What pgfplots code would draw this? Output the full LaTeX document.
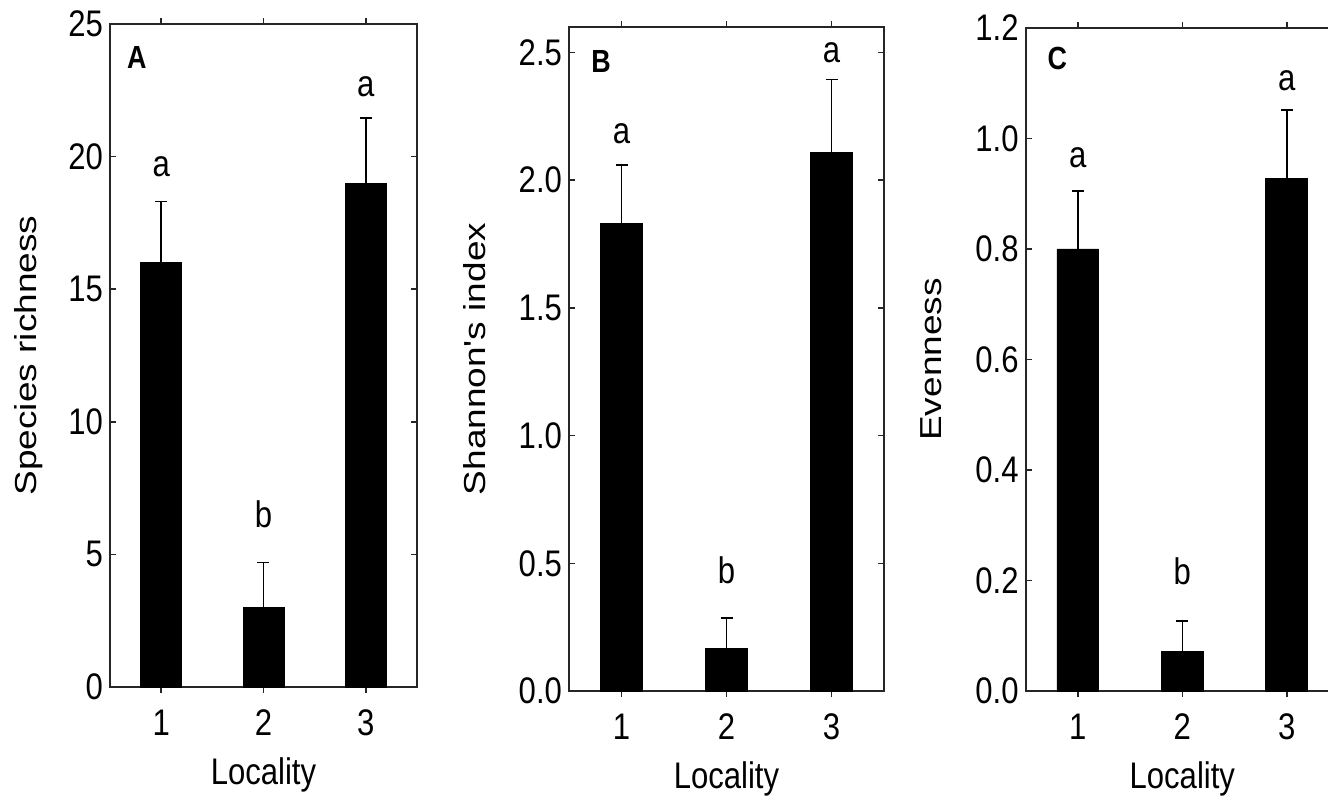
\documentclass[border=0pt]{standalone}
\usepackage{fontspec}
\setmainfont{Liberation Sans}[FakeStretch=0.84]
\newfontfamily\plainfont{Liberation Sans}
\usepackage{pgfplots}
\pgfplotsset{compat=1.18}

\newcommand{\vlabel}[1]{\scalebox{1}[0.82]{\plainfont\fontsize{18.5}{22}\selectfont #1}}

\pgfplotsset{
 panel/.style={
  scale only axis,
  anchor=south west,
  xmin=0.5, xmax=3.5, ymin=0,
  xtick={1,2,3},
  tick align=inside,
  major tick length=3pt,
  axis line style={black!85, line width=0.9pt},
  every tick/.style={black!85, line width=0.8pt},
  /pgf/number format/assume math mode=true,
  tick label style={font=\fontsize{18.5}{22}\selectfont},
  label style={font=\fontsize{18.5}{22}\selectfont},
  xticklabel style={yshift=-5pt},
  xlabel={Locality},
  xlabel style={at={(axis description cs:0.5,0)}, anchor=base, yshift=-48.5pt},
  ybar, bar width=0.4, bar shift=0pt,
  clip=false,
 },
 bars/.style={fill=black, draw=black,
   error bars/.cd, y dir=plus, y explicit,
   error mark=-,
   error bar style={line width=0.8pt, black},
   error mark options={rotate=90, line width=0.8pt, black, mark size=3pt}},
}
\tikzset{
 lab/.style={font=\fontsize{18.5}{22}\selectfont, anchor=base},
 plab/.style={font=\fontsize{16}{19}\selectfont\bfseries, anchor=base},
}

\begin{document}
\begin{tikzpicture}
% Panel A
\begin{axis}[panel, at={(55pt,55.5pt)}, width=153.5pt, height=331.5pt,
  ymax=25, ytick={0,5,10,15,20,25},
  ylabel={\vlabel{Species richness}},
  ylabel style={at={(axis description cs:-0.264,0.5)}, anchor=center}]
\addplot[bars] coordinates {(1,16) +- (0,2.3) (2,3) +- (0,1.7) (3,19) +- (0,2.45)};
\node[lab] at (axis cs:1,19.24) {a};
\node[lab] at (axis cs:2,6.03) {b};
\node[lab] at (axis cs:3,22.25) {a};
\node[plab] at (axis cs:0.763,23.34) {A};
\end{axis}
% Panel B
\begin{axis}[panel, at={(284.5pt,53.5pt)}, width=157.5pt, height=332pt,
  ymax=2.6, ytick={0,0.5,1,1.5,2,2.5},
  yticklabel style={/pgf/number format/.cd, fixed, fixed zerofill, precision=1},
  ylabel={\vlabel{Shannon's index}},
  ylabel style={at={(axis description cs:-0.298,0.5)}, anchor=center}]
\addplot[bars] coordinates {(1,1.83) +- (0,0.23) (2,0.165) +- (0,0.12) (3,2.11) +- (0,0.285)};
\node[lab] at (axis cs:1,2.144) {a};
\node[lab] at (axis cs:2,0.4225) {b};
\node[lab] at (axis cs:3,2.461) {a};
\node[plab] at (axis cs:0.805,2.42) {B};
\end{axis}
% Panel C
\begin{axis}[panel, at={(512.8pt,53.5pt)}, width=156.7pt, height=331.5pt,
  ymax=1.2, ytick={0,0.2,0.4,0.6,0.8,1.0,1.2},
  yticklabel style={/pgf/number format/.cd, fixed, fixed zerofill, precision=1},
  ylabel={\vlabel{Evenness}},
  ylabel style={at={(axis description cs:-0.302,0.5)}, anchor=center}]
\addplot[bars] coordinates {(1,0.80) +- (0,0.105) (2,0.071) +- (0,0.056) (3,0.927) +- (0,0.125)};
\node[lab] at (axis cs:1,0.9466) {a};
\node[lab] at (axis cs:2,0.192) {b};
\node[lab] at (axis cs:3,1.086) {a};
\node[plab] at (axis cs:0.803,1.124) {C};
\end{axis}
\pgfresetboundingbox
\path[use as bounding box] (0,0) rectangle (664pt,399pt);
\end{tikzpicture}
\end{document}
